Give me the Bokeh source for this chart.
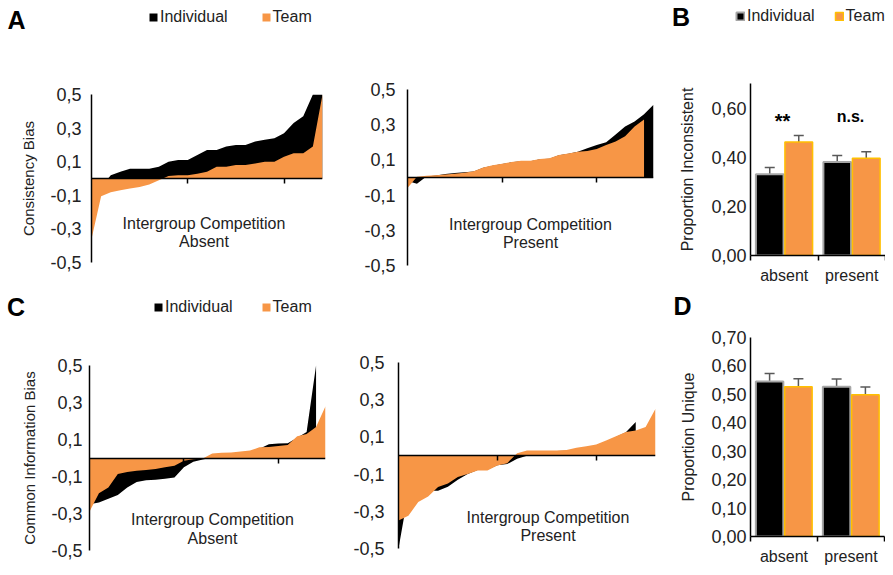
from bokeh.plotting import figure
from bokeh.layouts import row, column
from bokeh.models import (Range1d, FixedTicker, CustomJSTickFormatter, Label, Legend,
                          LegendItem, Whisker, TeeHead, ColumnDataSource)
from bokeh.embed import file_html
from bokeh.resources import INLINE

FONT = "Liberation Sans"
INK = "#222222"
BLACK = "#000000"
ORANGE = "#F79646"
GOLD = "#FFC000"
GREY_EDGE = "#A6A6A6"
ERR = "#595959"

# ---------------- data ----------------
series_labels = ["Individual", "Team"]
conditions = ["absent", "present"]
condition_titles = ["Absent", "Present"]
competition_text = "Intergroup Competition"
panel_letters = ["A", "B", "C", "D"]

consistency_absent_individual = [-0.22, -0.05, 0.02, 0.04, 0.058, 0.058, 0.058, 0.07, 0.10, 0.11,
                                 0.11, 0.14, 0.17, 0.17, 0.19, 0.20, 0.20, 0.22, 0.23, 0.24,
                                 0.27, 0.33, 0.37, 0.50, 0.50]
consistency_absent_team = [-0.36, -0.106, -0.082, -0.07, -0.06, -0.05, -0.036, -0.01, 0.015, 0.02,
                           0.02, 0.028, 0.04, 0.07, 0.07, 0.08, 0.08, 0.09, 0.10, 0.10,
                           0.13, 0.15, 0.15, 0.19, 0.50]
consistency_present_individual = [-0.02, -0.035, 0.005, 0.012, 0.02, 0.025, 0.03, 0.034, 0.055, 0.067,
                                  0.076, 0.086, 0.093, 0.093, 0.103, 0.107, 0.126, 0.135, 0.146, 0.166,
                                  0.185, 0.20, 0.245, 0.29, 0.318, 0.36, 0.414]
consistency_present_team = [-0.06, 0.004, 0.01, 0.013, 0.017, 0.021, 0.027, 0.036, 0.057, 0.069,
                            0.078, 0.088, 0.095, 0.095, 0.105, 0.109, 0.128, 0.137, 0.147, 0.15,
                            0.162, 0.185, 0.205, 0.235, 0.29, 0.33]
common_absent_individual = [-0.25, -0.24, -0.22, -0.20, -0.16, -0.13, -0.12, -0.118, -0.112, -0.105,
                            -0.05, -0.02, -0.008, 0.003, 0.015, 0.02, 0.025, 0.03, 0.05, 0.075,
                            0.078, 0.08, 0.11, 0.14, 0.50]
common_absent_team = [-0.29, -0.19, -0.16, -0.086, -0.075, -0.069, -0.065, -0.06, -0.05, -0.042,
                      -0.015, -0.007, -0.003, 0.025, 0.028, 0.03, 0.035, 0.04, 0.058, 0.06,
                      0.065, 0.07, 0.118, 0.13, 0.168, 0.28]
common_present_individual = [-0.50, -0.20, -0.20, -0.19, -0.19, -0.168, -0.13, -0.10, -0.078, -0.075,
                             -0.052, -0.046, -0.018, -0.002, 0.02, 0.022, 0.024, 0.026, 0.035, 0.045,
                             0.055, 0.075, 0.10, 0.125, 0.18]
common_present_team = [-0.35, -0.324, -0.25, -0.22, -0.17, -0.15, -0.115, -0.10, -0.081, -0.081,
                       -0.054, -0.041, 0.012, 0.027, 0.027, 0.027, 0.027, 0.03, 0.041, 0.05,
                       0.059, 0.08, 0.104, 0.126, 0.135, 0.153, 0.252]
bias_ticks = [-0.5, -0.3, -0.1, 0.1, 0.3, 0.5]
rank_ticks = [10, 20]

inconsistent_individual = [0.331, 0.381]
inconsistent_team = [0.462, 0.396]
inconsistent_individual_err = [0.027, 0.026]
inconsistent_team_err = [0.026, 0.026]
inconsistent_ticks = [0.0, 0.2, 0.4, 0.6]
significance = ["**", "n.s."]

unique_individual = [0.545, 0.527]
unique_team = [0.527, 0.499]
unique_individual_err = [0.028, 0.027]
unique_team_err = [0.028, 0.027]
unique_ticks = [0.0, 0.1, 0.2, 0.3, 0.4, 0.5, 0.6, 0.7]

# ---------------- layout: pixel boxes (figure box, frame box) ----------------
TOTAL_W = 885
HEADERS = [(0, 36), (288, 324)]
PANELS = {
    "A1": dict(fig=(0, 36, 340, 252), frame=(91, 94, 231, 168)),
    "A2": dict(fig=(340, 36, 325, 252), frame=(407, 89, 246, 176)),
    "B": dict(fig=(665, 36, 220, 252), frame=(750, 83, 135, 172)),
    "C1": dict(fig=(0, 324, 340, 243), frame=(89, 365, 236, 185)),
    "C2": dict(fig=(340, 324, 325, 243), frame=(398, 362, 257, 186)),
    "D": dict(fig=(665, 324, 220, 243), frame=(750, 337, 134, 200)),
}


def base_style(p):
    p.outline_line_color = None
    p.grid.visible = False
    p.background_fill_color = "white"
    p.border_fill_color = "white"


def make_fig(key, x_range, y_range):
    x0, y0, w, h = PANELS[key]["fig"]
    fx, fy, fw, fh = PANELS[key]["frame"]
    p = figure(width=w, height=h, x_range=x_range, y_range=y_range, title=None,
               output_backend="svg", toolbar_location=None,
               min_border_left=fx - x0, min_border_top=fy - y0,
               min_border_right=x0 + w - fx - fw, min_border_bottom=y0 + h - fy - fh)
    base_style(p)
    return p


def frame_to_data(key, p, px, py):
    fx, fy, fw, fh = PANELS[key]["frame"]
    xr, yr = p.x_range, p.y_range
    x = xr.start + (px - fx) / fw * (xr.end - xr.start)
    y = yr.end - (py - fy) / fh * (yr.end - yr.start)
    return x, y


def add_label(p, x, y, text, size="16px", bold=False, align="left"):
    # y is the vertical centre of the text
    p.add_layout(Label(x=x, y=y, text=text, text_font=FONT, text_font_size=size,
                       text_font_style="bold" if bold else "normal",
                       text_align=align, text_baseline="middle",
                       text_color=BLACK if bold else INK))


def style_yaxis(ax, ticks, digits, standoff, label=None, label_size="16px", label_standoff=10):
    ax.ticker = FixedTicker(ticks=ticks)
    ax.formatter = CustomJSTickFormatter(code="return tick.toFixed(%d).replace('.', ',');" % digits)
    ax.major_tick_line_color = None
    ax.minor_tick_line_color = None
    ax.major_tick_out = 0
    ax.major_tick_in = 0
    ax.major_label_standoff = standoff
    ax.axis_line_color = BLACK
    ax.axis_line_width = 1.5
    ax.major_label_text_font = FONT
    ax.major_label_text_font_size = "18px"
    ax.major_label_text_color = INK
    if label:
        ax.axis_label = label
        ax.axis_label_text_font = FONT
        ax.axis_label_text_font_style = "normal"
        ax.axis_label_text_font_size = label_size
        ax.axis_label_text_color = INK
        ax.axis_label_standoff = label_standoff


def area_panel(key, ind, team, cond_title, ylabel, text_px, tick_standoff, label_standoff=10):
    n = max(len(ind), len(team)) - 1
    p = make_fig(key, Range1d(0, n), Range1d(-0.5, 0.5))
    p.varea(x=list(range(len(ind))), y1=0, y2=ind, fill_color=BLACK)
    p.varea(x=list(range(len(team))), y1=0, y2=team, fill_color=ORANGE)
    style_yaxis(p.yaxis[0], bias_ticks, 1, tick_standoff, ylabel, "15px", label_standoff)
    xax = p.xaxis[0]
    xax.fixed_location = 0
    xax.ticker = FixedTicker(ticks=rank_ticks)
    xax.formatter = CustomJSTickFormatter(code="return '';")
    xax.major_label_text_font_size = "0px"
    xax.major_label_standoff = 0
    xax.major_tick_out = 5
    xax.major_tick_in = 0
    xax.major_tick_line_color = BLACK
    xax.major_tick_line_width = 1.5
    xax.minor_tick_line_color = None
    xax.axis_line_color = BLACK
    xax.axis_line_width = 1.5
    cx, c1, c2 = text_px
    for text, cy in ((competition_text, c1), (cond_title, c2)):
        x, y = frame_to_data(key, p, cx, cy)
        add_label(p, x, y, text, align="center")
    return p


def bar_panel(key, ind, team, ind_err, team_err, ticks, ylabel, label_standoff, sig=None):
    p = make_fig(key, Range1d(0, len(conditions)), Range1d(0, 0.7))
    centers = [i + 0.5 for i in range(len(conditions))]
    xi = [c - 0.215 for c in centers]
    xt = [c + 0.215 for c in centers]
    p.vbar(x=xi, top=ind, bottom=0, width=0.41, fill_color=BLACK,
           line_color=GREY_EDGE, line_width=2)
    p.vbar(x=xt, top=team, bottom=0, width=0.41, fill_color=ORANGE,
           line_color=GOLD, line_width=1.5)
    for xs, vals, errs in ((xi, ind, ind_err), (xt, team, team_err)):
        src = ColumnDataSource(dict(x=xs, upper=[v + e for v, e in zip(vals, errs)],
                                    lower=[v - e for v, e in zip(vals, errs)]))
        p.add_layout(Whisker(source=src, base="x", upper="upper", lower="lower",
                             line_color=ERR, line_width=1.5,
                             upper_head=TeeHead(size=10, line_color=ERR, line_width=1.5),
                             lower_head=TeeHead(size=10, line_color=ERR, line_width=1.5)))
    style_yaxis(p.yaxis[0], ticks, 2, 4, ylabel, "16px", label_standoff)
    xax = p.xaxis[0]
    xax.ticker = FixedTicker(ticks=centers, minor_ticks=[0, 1, 2])
    xax.formatter = CustomJSTickFormatter(args=dict(labels=conditions),
                                          code="return labels[Math.floor(tick)];")
    xax.major_tick_line_color = None
    xax.major_tick_out = 0
    xax.major_tick_in = 0
    xax.minor_tick_out = 5
    xax.minor_tick_in = 0
    xax.minor_tick_line_color = BLACK
    xax.minor_tick_line_width = 1.5
    xax.axis_line_color = BLACK
    xax.axis_line_width = 1.5
    xax.major_label_standoff = 6
    xax.major_label_text_font = FONT
    xax.major_label_text_font_size = "16px"
    xax.major_label_text_color = INK
    if sig:
        for s, (px, py, size) in zip(significance, sig):
            x, y = frame_to_data(key, p, px, py)
            add_label(p, x, y, s, size=size, bold=True, align="center")
    return p


def header(row_index, letters, legends):
    top, bottom = HEADERS[row_index]
    p = figure(width=TOTAL_W, height=bottom - top, x_range=Range1d(0, TOTAL_W),
               y_range=Range1d(bottom, top), title=None, output_backend="svg",
               toolbar_location=None, x_axis_type=None, y_axis_type=None,
               min_border_left=0, min_border_right=0, min_border_top=0, min_border_bottom=0)
    base_style(p)
    for letter, lx, ly in letters:
        add_label(p, lx, ly, letter, size="25px", bold=True)
    for px_left, py_center, spacing, kind, ind, team in legends:
        if kind == "area":
            r1 = p.varea(x=list(range(len(ind))), y1=0, y2=ind, fill_color=BLACK, visible=False)
            r2 = p.varea(x=list(range(len(team))), y1=0, y2=team, fill_color=ORANGE, visible=False)
        else:
            xs = list(range(len(ind)))
            r1 = p.vbar(x=xs, top=ind, width=0.4, fill_color=BLACK, line_color=GREY_EDGE,
                        line_width=2, visible=False)
            r2 = p.vbar(x=xs, top=team, width=0.4, fill_color=ORANGE, line_color=GOLD,
                        line_width=1.5, visible=False)
        lg = Legend(items=[LegendItem(label=s, renderers=[r]) for s, r in zip(series_labels, [r1, r2])],
                    orientation="horizontal", location=(px_left, bottom - (py_center + 9)),
                    glyph_width=10, glyph_height=10, label_standoff=2, spacing=spacing,
                    padding=0, margin=0, border_line_color=None, background_fill_alpha=0,
                    inactive_fill_alpha=0,
                    label_text_font=FONT, label_text_font_size="16px", label_text_color=INK,
                    label_height=18)
        p.add_layout(lg)
    return p


h1 = header(0, [(panel_letters[0], 7, 19), (panel_letters[1], 671.5, 16.5)],
            [(148, 17, 33, "area", consistency_absent_individual, consistency_absent_team),
             (735, 16.3, 19, "bar", inconsistent_individual, inconsistent_team)])
h2 = header(1, [(panel_letters[2], 6.5, 306.5), (panel_letters[3], 673, 305)],
            [(153, 307, 28, "area", common_absent_individual, common_absent_team)])

pa1 = area_panel("A1", consistency_absent_individual, consistency_absent_team, condition_titles[0],
                 "Consistency Bias", (203.5, 223.2, 240.8), 10, 10)
pa2 = area_panel("A2", consistency_present_individual, consistency_present_team, condition_titles[1],
                 None, (530, 224.3, 242), 12)
pb = bar_panel("B", inconsistent_individual, inconsistent_team, inconsistent_individual_err,
               inconsistent_team_err, inconsistent_ticks, "Proportion Inconsistent", 12,
               sig=[(782, 120.5, "20px"), (850, 115.5, "16px")])
pc1 = area_panel("C1", common_absent_individual, common_absent_team, condition_titles[0],
                 "Common Information Bias", (212, 519.3, 537.7), 7, 10)
pc2 = area_panel("C2", common_present_individual, common_present_team, condition_titles[1],
                 None, (547.5, 517, 535.3), 14)
pd = bar_panel("D", unique_individual, unique_team, unique_individual_err, unique_team_err,
               unique_ticks, "Proportion Unique", 11)

layout = column(h1, row(column(pa1), column(pa2), column(pb)),
                h2, row(column(pc1), column(pc2), column(pd)))
open("out.html", "w").write(file_html(layout, INLINE))
